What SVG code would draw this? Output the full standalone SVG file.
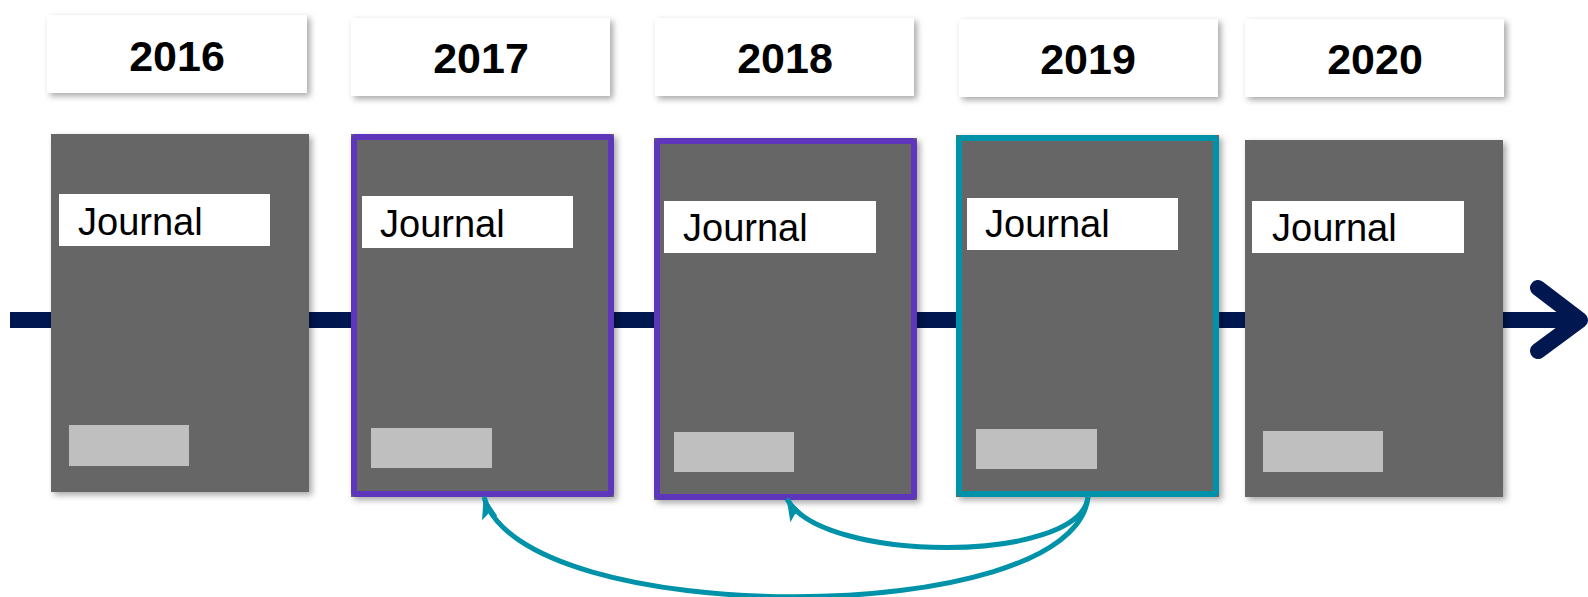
<svg xmlns="http://www.w3.org/2000/svg" width="1588" height="597" viewBox="0 0 1588 597">
<style>
.year{fill:#fff;filter:url(#sh)}
.yt{font-family:"Liberation Sans",Arial,sans-serif;font-weight:bold;font-size:43px;fill:#000;text-anchor:middle}
.card{fill:#666;filter:url(#sh)}
.lab{fill:#fff}
.jt{font-family:"Liberation Sans",Arial,sans-serif;font-size:38px;fill:#000}
.ph{fill:#bfbfbf}
.pur{fill:none;stroke:#5d36bb;stroke-width:6}
.teal{fill:none;stroke:#0092a8;stroke-width:6}
.conn{fill:none;stroke:#0092a8;stroke-width:5;marker-end:url(#ah)}
</style>
<defs>
<filter id="sh" x="-10%" y="-10%" width="125%" height="125%">
<feDropShadow dx="3" dy="3" stdDeviation="3" flood-color="#000" flood-opacity="0.35"/>
</filter>
<marker id="ah" markerUnits="userSpaceOnUse" markerWidth="24" markerHeight="24" viewBox="0 0 24 24" refX="22" refY="12" orient="auto">
<path d="M0,4 L23,12 L0,20 L5,12 Z" fill="#0092a8"/>
</marker>
</defs>
<g id="timeline">
<line x1="10" y1="320" x2="1575" y2="320" stroke="#00174f" stroke-width="16"/>
<polyline points="1538,288 1580,320 1538,351" fill="none" stroke="#00174f" stroke-width="16" stroke-linecap="round" stroke-linejoin="round"/>
</g>
<g id="y2016"><rect class="year" x="47" y="15" width="260" height="78"/><text class="yt" x="177" y="71">2016</text></g>
<g id="y2017"><rect class="year" x="351" y="18" width="259" height="78"/><text class="yt" x="481" y="73">2017</text></g>
<g id="y2018"><rect class="year" x="655" y="18" width="259" height="78"/><text class="yt" x="785" y="73">2018</text></g>
<g id="y2019"><rect class="year" x="959" y="19" width="259" height="78"/><text class="yt" x="1088" y="74">2019</text></g>
<g id="y2020"><rect class="year" x="1245" y="19" width="259" height="78"/><text class="yt" x="1375" y="74">2020</text></g>
<g id="c2016">
<rect class="card" x="51" y="134" width="258" height="358"/>
<rect class="lab" x="59" y="194" width="211" height="52"/>
<text class="jt" x="78" y="235">Journal</text>
<rect class="ph" x="69" y="425" width="120" height="41"/>
</g>
<g id="c2017">
<rect class="card" x="351" y="134" width="263" height="363"/>
<rect class="pur" x="354" y="137" width="257" height="357" rx="2"/>
<rect class="lab" x="362" y="196" width="211" height="52"/>
<text class="jt" x="380" y="237">Journal</text>
<rect class="ph" x="371" y="428" width="121" height="40"/>
</g>
<g id="c2018">
<rect class="card" x="654" y="138" width="263" height="362"/>
<rect class="pur" x="657" y="141" width="257" height="356" rx="2"/>
<rect class="lab" x="664" y="201" width="212" height="52"/>
<text class="jt" x="683" y="241">Journal</text>
<rect class="ph" x="674" y="432" width="120" height="40"/>
</g>
<g id="c2019">
<rect class="card" x="956" y="135" width="263" height="362"/>
<rect class="teal" x="959" y="138" width="257" height="356" rx="2"/>
<rect class="lab" x="967" y="198" width="211" height="52"/>
<text class="jt" x="985" y="237">Journal</text>
<rect class="ph" x="976" y="429" width="121" height="40"/>
</g>
<g id="c2020">
<rect class="card" x="1245" y="140" width="258" height="357"/>
<rect class="lab" x="1252" y="201" width="212" height="52"/>
<text class="jt" x="1272" y="241">Journal</text>
<rect class="ph" x="1263" y="431" width="120" height="41"/>
</g>
<g id="connectors">
<path class="conn" d="M1088,497 C1074,630 520,630 484,497"/>
<path class="conn" d="M1088,497 C1080,564 822,564 787,499"/>
</g>
</svg>
